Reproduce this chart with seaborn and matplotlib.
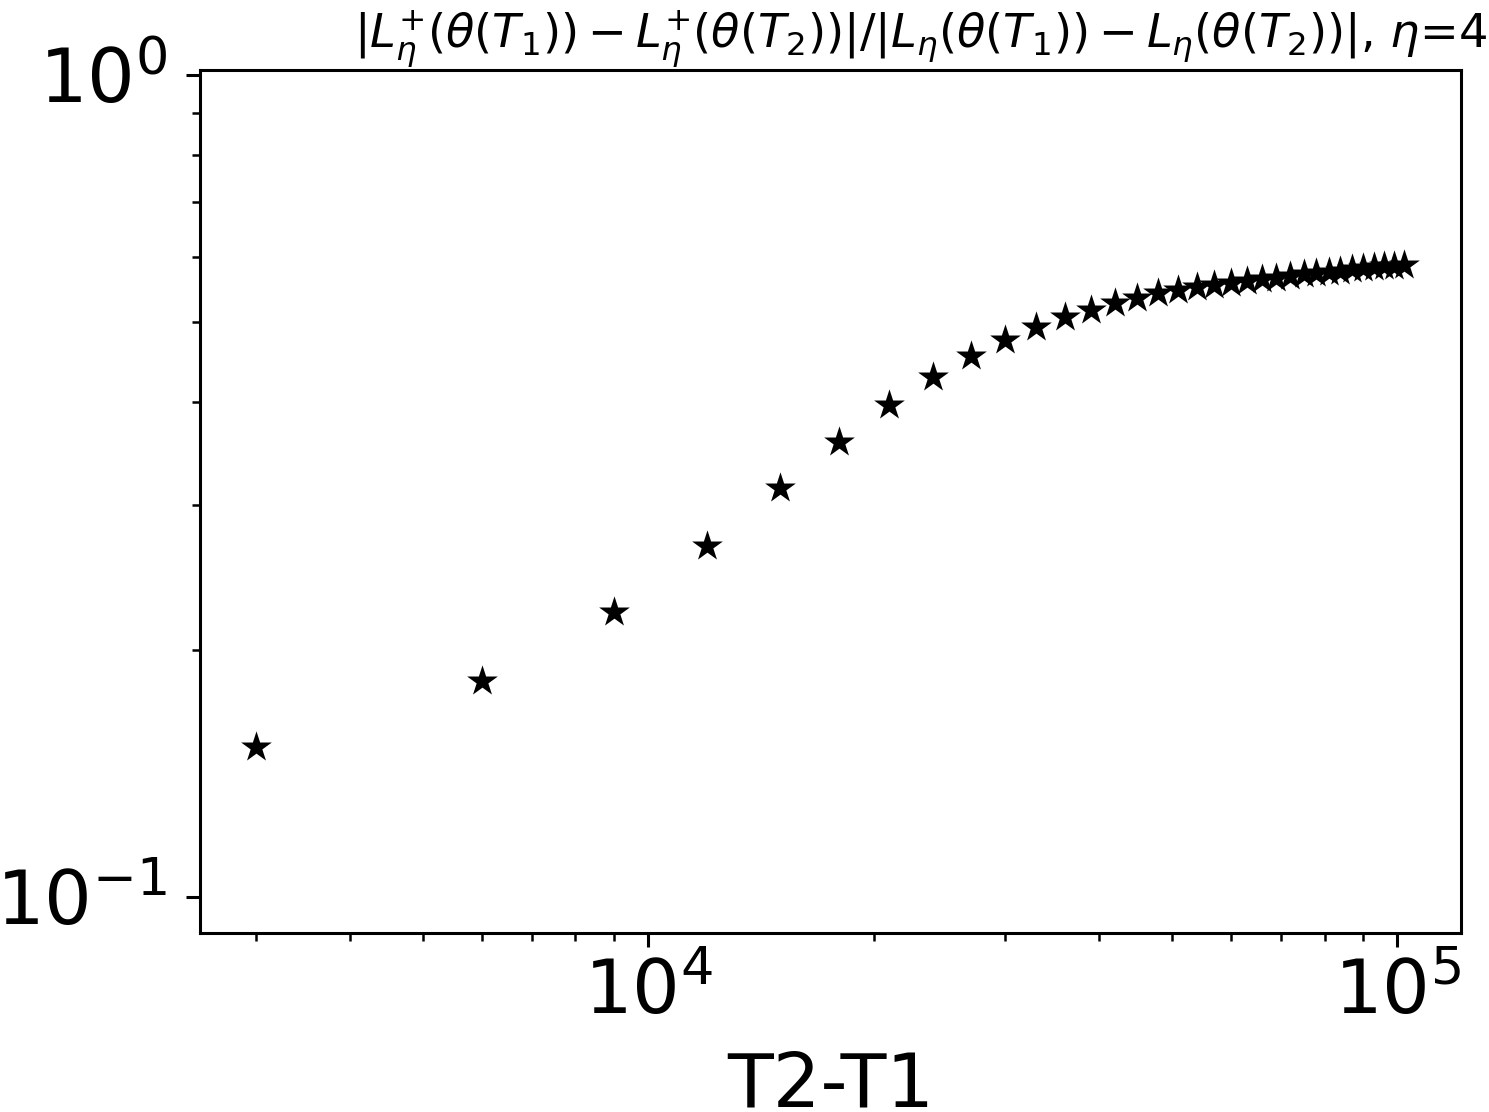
import numpy as np
import matplotlib
matplotlib.use("Agg")
import matplotlib.pyplot as plt
import seaborn as sns

# gap between the two times
gaps = [3000, 6000, 9000, 12000, 15000, 18000, 21000, 24000, 27000, 30000,
        33000, 36000, 39000, 42000, 45000, 48000, 51000, 54000, 57000, 60000,
        63000, 66000, 69000, 72000, 75000, 78000, 81000, 84000, 87000, 90000,
        93000, 96000, 99000, 102000]

# ratio of the loss differences
ratio = [0.152, 0.183, 0.222, 0.267, 0.314, 0.358, 0.397, 0.429, 0.455, 0.476,
         0.494, 0.508, 0.518, 0.528, 0.536, 0.543, 0.547, 0.552, 0.556, 0.559,
         0.562, 0.565, 0.567, 0.569, 0.572, 0.574, 0.576, 0.578, 0.580, 0.582,
         0.584, 0.585, 0.586, 0.587]

sns.set_style("ticks", rc={'text.color': 'black', 'axes.labelcolor': 'black',
                           'xtick.color': 'black', 'ytick.color': 'black',
                           'axes.edgecolor': 'black'})
plt.rcParams['font.family'] = ['DejaVu Sans']

fig = plt.figure(figsize=(7.445, 5.56), dpi=200)
ax = fig.add_axes([200/1489, 1 - 933/1112, 1261/1489, 863/1112])

sns.scatterplot(x=gaps, y=ratio, marker='*', s=135, color='black',
                linewidth=0, ax=ax)

ax.set_xscale('log')
ax.set_yscale('log')
ax.set_xlim(2523, 121700)
ax.set_ylim(0.0904, 1.014)

for side in ['top', 'right', 'bottom', 'left']:
    ax.spines[side].set_visible(True)
    ax.spines[side].set_linewidth(1.1)

ax.tick_params(which='major', length=5, width=1.1, labelsize=27)
ax.tick_params(which='minor', length=2.9, width=0.9)
ax.tick_params(axis='y', which='major', pad=7)

ax.set_xlabel('T2-T1', fontsize=27, labelpad=7)
ax.set_title(r'$|L_{\eta}^{+}(\theta(T_1)) - L_{\eta}^{+}(\theta(T_2))|/|L_{\eta}(\theta(T_1)) - L_{\eta}(\theta(T_2))|$, $\eta$=4',
             fontsize=16.7, x=0.571, pad=4)

fig.savefig('out.png', dpi=200)
